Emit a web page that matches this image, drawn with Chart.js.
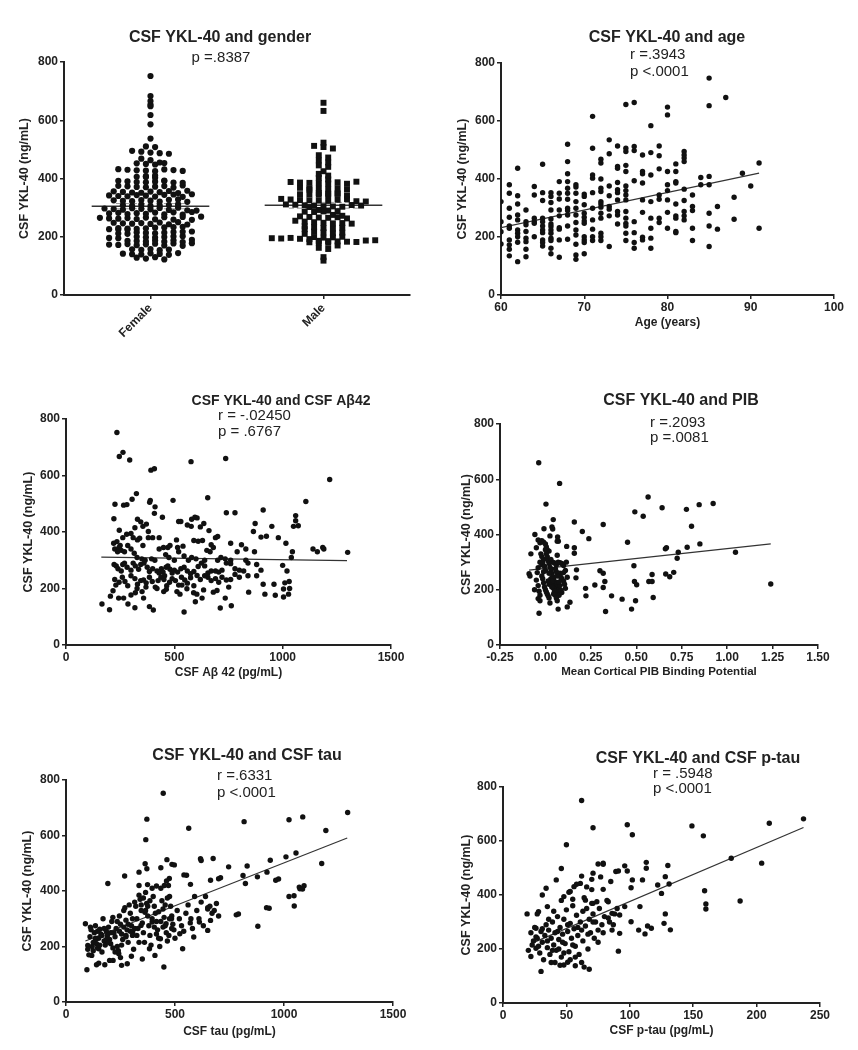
<!DOCTYPE html>
<html>
<head>
<meta charset="utf-8">
<script src="https://cdn.jsdelivr.net/npm/chart.js@4.4.0/dist/chart.umd.min.js"></script>
<style>
    body { margin: 0; background: #fff; width: 858px; height: 1050px; position: relative; overflow: hidden; }
    canvas { position: absolute; }
</style>
</head>
<body>
<canvas id="genderChart"></canvas>
<canvas id="ageChart"></canvas>
<canvas id="abetaChart"></canvas>
<canvas id="pibChart"></canvas>
<canvas id="tauChart"></canvas>
<canvas id="ptauChart"></canvas>
<script>
// ---- data ----
const genderLabels = ['Female', 'Male'];
const femaleValues = [752, 683, 666, 654, 648, 618, 586, 537, 510, 508, 495, 492, 489, 487, 485,
    468, 463, 455, 452, 450, 448, 453, 432, 430, 428, 427, 425, 431, 429, 426, 408, 406, 405, 403, 410,
    392, 390, 388, 387, 389, 391, 386, 393, 385, 375, 373, 371, 370, 372, 374, 369, 376,
    356, 354, 352, 351, 355, 353, 357, 350, 358, 342, 340, 339, 343, 341, 338, 344, 345, 337, 346,
    325, 323, 322, 326, 324, 321, 327, 328, 320, 308, 306, 310, 305, 307, 309, 311,
    297, 295, 293, 298, 296, 294, 299, 292, 300, 291, 290, 280, 282, 278, 281, 279, 283, 277, 284, 276, 285,
    265, 263, 262, 264, 261, 266, 260, 267, 259, 268, 258, 269, 248, 246, 245, 247, 244, 249, 243, 250, 242,
    230, 228, 227, 229, 231, 226, 232, 225, 233, 224, 234, 215, 213, 212, 214, 216, 211, 217, 210, 218,
    200, 198, 197, 199, 201, 196, 202, 195, 186, 185, 184, 187, 183, 188, 182, 189,
    173, 172, 175, 171, 174, 176, 170, 177, 169, 178, 157, 155, 158, 154, 156,
    142, 140, 139, 143, 141, 138, 144, 128, 125, 130, 122];
const maleValues = [660, 632, 523, 512, 508, 503, 480, 472, 462, 455, 445, 440, 425, 416, 410, 402, 397,
    388, 386, 385, 384, 383, 387, 382, 389, 368, 366, 365, 364, 362, 367, 363,
    350, 348, 346, 345, 344, 343, 347, 349, 342, 330, 328, 326, 325, 324, 323, 327, 329, 322, 321,
    311, 310, 308, 306, 305, 304, 303, 309, 307, 302, 292, 290, 288, 286, 285, 287,
    275, 272, 270, 268, 266, 265, 267, 263, 255, 252, 250, 248, 246, 247, 245,
    236, 233, 230, 228, 226, 231, 218, 215, 212, 210, 214,
    199, 197, 195, 194, 196, 198, 193, 200, 192, 186, 185, 184, 183, 182, 181, 187, 180, 188, 179,
    170, 162, 158, 130, 118];
const genderMeans = [305, 308];
const genderSems = [9, 10];

const ageYears = [60, 61, 62, 63, 64, 65, 66, 67, 68, 69, 70, 71, 72, 73, 74, 75,
    76, 77, 78, 79, 80, 81, 82, 83, 84, 85, 86, 87, 88, 89, 90, 91];
const ageYklByYear = [
    [322, 253, 218, 176],
    [380, 351, 299, 268, 238, 230, 190, 173, 158, 135],
    [437, 342, 314, 276, 259, 224, 213, 201, 182, 115],
    [293, 253, 242, 219, 196, 184, 158, 132],
    [374, 345, 265, 253, 247, 201],
    [451, 353, 326, 265, 253, 238, 224, 215, 190, 181, 169],
    [353, 340, 319, 293, 262, 245, 236, 224, 213, 196, 188, 161, 142],
    [391, 351, 331, 293, 273, 232, 227, 190, 130],
    [520, 460, 418, 391, 368, 351, 330, 299, 291, 276, 238, 192],
    [380, 372, 351, 322, 299, 276, 250, 224, 207, 175, 138, 123],
    [348, 340, 311, 282, 268, 255, 247, 201, 190, 181, 142],
    [616, 506, 414, 403, 353, 299, 259, 227, 201, 188],
    [468, 455, 400, 368, 357, 322, 314, 303, 282, 265, 213, 201, 188],
    [535, 487, 376, 342, 305, 296, 273, 167],
    [514, 443, 437, 388, 363, 353, 328, 288, 276, 245],
    [657, 506, 495, 447, 426, 376, 360, 345, 328, 288, 265, 247, 238, 213, 188],
    [664, 512, 498, 394, 253, 215, 181, 161],
    [483, 426, 418, 386, 328, 285, 199, 190],
    [584, 491, 414, 322, 265, 230, 196, 161],
    [514, 480, 435, 345, 330, 265, 250],
    [648, 621, 426, 380, 360, 328, 285, 230],
    [452, 426, 391, 386, 314, 273, 265, 219, 215],
    [495, 483, 472, 460, 365, 326, 288, 273, 259],
    [345, 305, 291, 230, 188],
    [405, 380],
    [748, 653, 409, 380, 282, 238, 167],
    [305, 227],
    [681],
    [337, 261],
    [420],
    [376],
    [455, 230]
];
const ageFit = [[60, 232], [91, 420]];

const abetaPoints = [
    [235, 752], [246, 667], [263, 682], [294, 655], [392, 619], [408, 624], [577, 649], [737, 660], [1217, 586],
    [226, 498], [266, 495], [281, 497], [305, 516], [325, 536], [389, 512], [386, 505], [411, 489], [494, 512],
    [654, 521], [1107, 508], [910, 478], [780, 468], [445, 452], [221, 447], [408, 466], [580, 445], [595, 452],
    [605, 450], [1060, 458],
    [246, 406], [318, 415], [330, 445], [345, 436], [355, 420], [371, 428], [380, 402], [520, 437], [530, 437],
    [560, 425], [578, 420], [620, 418], [636, 430], [660, 405], [740, 468], [873, 430], [865, 402], [950, 420],
    [980, 380], [1050, 420], [1060, 440], [1072, 422],
    [220, 360], [235, 366], [250, 352], [262, 380], [280, 392], [300, 395], [310, 380], [330, 372], [340, 378],
    [355, 352], [380, 380], [400, 380], [430, 380], [470, 345], [480, 352], [510, 372], [515, 345], [540, 350],
    [590, 370], [610, 367], [630, 370], [670, 355], [690, 380], [700, 384], [760, 360], [810, 355], [830, 340],
    [900, 382], [925, 385], [1015, 360], [1185, 345], [1190, 340], [1140, 340], [1160, 330],
    [225, 340], [238, 330], [245, 345], [255, 335], [270, 330], [285, 352], [300, 340], [315, 325], [328, 310],
    [350, 305], [365, 300], [395, 305], [410, 300], [430, 340], [450, 345], [460, 320], [475, 310], [500, 300],
    [520, 330], [545, 315], [565, 300], [580, 310], [600, 305], [640, 300], [650, 335], [665, 330], [680, 345],
    [700, 300], [715, 310], [735, 305], [760, 300], [790, 330], [830, 300], [870, 330], [900, 265], [1040, 310],
    [1045, 330], [1300, 328],
    [222, 285], [232, 280], [240, 270], [255, 262], [262, 285], [270, 290], [282, 275], [300, 265], [310, 290],
    [320, 280], [335, 268], [345, 285], [360, 290], [375, 275], [385, 260], [400, 270], [420, 262], [430, 255],
    [440, 270], [448, 258], [455, 245], [462, 275], [470, 280], [480, 268], [490, 255], [500, 265], [515, 258],
    [530, 270], [545, 275], [560, 262], [575, 252], [590, 260], [610, 278], [625, 290], [640, 280], [655, 255],
    [670, 262], [690, 262], [705, 258], [720, 265], [740, 290], [760, 288], [780, 270], [800, 265], [820, 262],
    [840, 290], [880, 285], [1000, 282], [1020, 262],
    [225, 232], [230, 212], [245, 222], [260, 240], [272, 225], [285, 210], [300, 245], [318, 235], [330, 215],
    [345, 228], [358, 230], [370, 220], [385, 240], [398, 225], [412, 205], [425, 228], [438, 240], [452, 232],
    [465, 210], [478, 222], [490, 235], [505, 228], [520, 212], [533, 240], [548, 230], [560, 219], [575, 238],
    [590, 210], [605, 246], [620, 232], [640, 245], [655, 240], [670, 228], [690, 235], [705, 222], [720, 240],
    [740, 230], [760, 232], [780, 250], [800, 240], [840, 245], [880, 245], [910, 215], [960, 215], [1010, 220],
    [1030, 225],
    [205, 173], [217, 192], [243, 166], [266, 166], [286, 145], [300, 177], [320, 185], [328, 200], [351, 189],
    [358, 166], [369, 205], [420, 200], [451, 189], [463, 197], [512, 189], [526, 180], [535, 212], [558, 199],
    [589, 185], [597, 153], [604, 180], [628, 166], [635, 195], [680, 187], [697, 193], [735, 166], [751, 205],
    [843, 187], [918, 180], [966, 176], [1004, 170], [1027, 180], [1004, 198], [1032, 200],
    [166, 145], [201, 125], [318, 132], [385, 136], [403, 124], [545, 117], [712, 131], [763, 139]
];
const abetaFit = [[163, 311], [1297, 299]];

const pibPoints = [
    [-0.037, 660], [0.078, 585], [0.003, 510], [0.043, 454], [-0.008, 421], [0.036, 427], [-0.058, 400],
    [0.067, 391], [0.071, 376], [0.117, 357], [0.159, 445], [0.203, 411], [0.239, 385], [0.318, 436],
    [0.159, 352], [0.159, 332], [0.171, 272], [0.168, 243], [0.221, 205], [0.223, 178], [0.272, 217],
    [0.30, 269], [0.318, 260], [0.327, 230], [0.318, 208], [0.331, 121], [0.364, 178], [0.422, 166],
    [0.452, 372], [0.474, 130], [0.487, 287], [0.492, 482], [0.49, 230], [0.502, 218], [0.496, 160],
    [0.538, 466], [0.565, 536], [0.569, 230], [0.587, 230], [0.587, 255], [0.593, 172], [0.642, 497],
    [0.66, 348], [0.666, 352], [0.662, 257], [0.684, 247], [0.706, 263], [0.725, 314], [0.731, 336],
    [0.776, 491], [0.78, 354], [0.804, 430], [0.846, 508], [0.85, 366], [0.923, 512], [1.046, 336], [1.24, 221],
    [-0.08, 330], [-0.09, 258], [-0.085, 250], [-0.06, 200], [-0.05, 352], [-0.04, 380], [-0.03, 370],
    [-0.02, 378], [-0.01, 372], [0.0, 366], [0.01, 345], [0.02, 340], [-0.04, 280], [-0.045, 262],
    [-0.05, 235], [-0.04, 215], [-0.035, 195], [-0.03, 180], [-0.04, 168], [-0.03, 160], [-0.035, 115],
    [-0.02, 290], [-0.015, 300], [-0.01, 310], [-0.005, 285], [0.0, 270], [0.005, 330], [0.01, 320],
    [0.015, 305], [0.02, 295], [0.025, 282], [0.03, 275], [0.035, 260], [0.04, 248], [0.045, 240],
    [0.05, 230], [0.055, 220], [0.06, 210], [0.065, 200], [0.07, 190], [0.075, 180], [-0.02, 250],
    [-0.015, 240], [-0.01, 225], [-0.005, 210], [0.0, 200], [0.005, 192], [0.01, 185], [0.015, 178],
    [0.02, 170], [0.025, 152], [0.03, 240], [0.035, 230], [0.04, 215], [0.045, 205], [0.05, 195],
    [0.055, 180], [0.06, 170], [0.065, 160], [0.07, 130], [-0.025, 330], [-0.02, 320], [0.0, 345],
    [0.005, 355], [0.03, 310], [0.04, 300], [0.05, 297], [0.06, 290], [0.07, 300], [0.08, 298],
    [0.09, 295], [0.1, 288], [0.11, 270], [0.12, 245], [0.08, 260], [0.085, 245], [0.09, 240], [0.1, 232],
    [0.105, 220], [0.11, 205], [0.09, 190], [0.085, 198], [0.08, 215], [0.075, 228], [0.1, 262],
    [0.065, 250], [0.06, 265], [0.055, 275], [0.02, 220], [0.015, 232], [-0.01, 265], [-0.03, 300],
    [0.04, 420], [0.025, 395], [0.065, 376], [0.035, 210], [0.045, 185], [0.02, 260], [0.12, 138],
    [0.135, 155], [0.115, 300], [0.065, 325]
];
const pibFit = [[-0.09, 271], [1.24, 366]];

const tauPoints = [
    [446, 752], [371, 659], [366, 585], [563, 626], [817, 650], [1023, 657], [1086, 667], [1292, 683],
    [1192, 618], [1173, 499], [1055, 537], [1009, 523], [937, 511], [922, 468], [962, 439], [878, 451],
    [831, 490], [812, 456], [823, 427], [746, 487], [675, 517], [617, 516], [620, 510], [463, 513],
    [486, 496], [497, 494], [435, 484], [363, 498], [371, 480], [335, 468], [269, 454], [192, 427],
    [553, 457], [541, 458], [709, 448], [700, 444], [663, 439], [571, 424], [474, 445], [451, 420],
    [461, 436], [415, 418], [374, 423], [335, 420], [1023, 380], [1070, 414], [1073, 408], [1047, 346],
    [920, 340], [781, 314],
    [89, 282], [100, 204], [96, 116], [118, 168], [112, 270], [135, 224], [150, 192], [140, 134],
    [178, 134], [216, 150], [242, 174], [255, 132], [281, 138], [275, 240], [306, 252], [344, 276],
    [362, 323], [383, 192], [408, 168], [433, 228], [395, 288], [459, 282], [472, 240], [449, 126],
    [484, 300], [535, 192], [522, 246], [586, 234], [573, 300], [612, 288], [650, 335], [663, 294],
    [650, 258], [791, 317], [880, 273], [932, 338], [975, 443], [1046, 383], [1092, 419], [1085, 407],
    [110, 235], [115, 260], [120, 200], [125, 185], [130, 250], [135, 275], [140, 210], [145, 195],
    [150, 230], [155, 262], [160, 245], [165, 180], [170, 300], [175, 220], [180, 205], [185, 255],
    [190, 240], [195, 270], [200, 225], [205, 210], [210, 290], [215, 305], [220, 250], [225, 235],
    [230, 265], [235, 200], [240, 185], [245, 310], [250, 280], [255, 245], [260, 225], [265, 330],
    [270, 340], [275, 295], [280, 260], [285, 215], [290, 350], [295, 320], [300, 275], [305, 240],
    [310, 190], [315, 360], [320, 345], [325, 300], [330, 265], [335, 385], [340, 370], [345, 330],
    [350, 285], [355, 250], [360, 215], [365, 395], [370, 355], [375, 310], [380, 275], [385, 240],
    [390, 205], [395, 410], [400, 380], [405, 345], [410, 320], [415, 290], [420, 260], [425, 230],
    [430, 200], [435, 410], [440, 365], [445, 335], [450, 305], [455, 275], [460, 250], [465, 220],
    [470, 420], [475, 380], [480, 345], [485, 310], [490, 280], [495, 260], [500, 230], [510, 330],
    [520, 300], [530, 275], [540, 255], [550, 320], [560, 350], [570, 285], [580, 265], [590, 380],
    [600, 330], [610, 300], [620, 360], [630, 275], [640, 380], [650, 340], [660, 345], [670, 320],
    [680, 330], [690, 355], [700, 310],
    [125, 215], [135, 230], [145, 255], [155, 205], [165, 240], [175, 265], [185, 225], [195, 215],
    [205, 250], [215, 195], [225, 180], [235, 290], [245, 255], [255, 205], [265, 270], [275, 235],
    [285, 280], [295, 255], [305, 300], [315, 265], [325, 240], [335, 215], [345, 350], [355, 375],
    [365, 330], [375, 345], [385, 365], [395, 300], [405, 270], [415, 245], [425, 325], [435, 290],
    [445, 270], [455, 350], [465, 375], [475, 300], [485, 265],
    [100, 190], [105, 170], [150, 140], [200, 150], [250, 160], [300, 165], [350, 155]
];
const tauFit = [[89, 220], [1290, 591]];

const ptauPoints = [
    [62, 750], [71, 649], [98, 660], [102, 623], [50, 586], [149, 656], [158, 619], [210, 666], [237, 682],
    [180, 536], [204, 518], [187, 378], [159, 416], [160, 367], [160, 348], [130, 509], [128, 468],
    [131, 441], [122, 437], [125, 406], [128, 330], [113, 521], [113, 499], [110, 456], [102, 456],
    [101, 427], [108, 357], [96, 508], [98, 489], [89, 487], [91, 489], [85, 450], [79, 421], [75, 515],
    [79, 518], [70, 458], [71, 481], [46, 498], [42, 456], [34, 425], [31, 400], [19, 330], [28, 338],
    [35, 357], [48, 394], [53, 413], [56, 431], [61, 443], [65, 381], [71, 369], [86, 332],
    [22, 172], [26, 203], [30, 117], [27, 330], [26, 277], [48, 141], [51, 151], [57, 138], [64, 133],
    [68, 125], [55, 384], [70, 369], [77, 467], [79, 514], [83, 375], [92, 326], [96, 357], [92, 258],
    [101, 301], [91, 192], [107, 270], [112, 256], [114, 285], [117, 277], [127, 295], [132, 271],
    [20, 195], [22, 260], [24, 230], [25, 280], [26, 245], [28, 210], [29, 185], [30, 265], [31, 225],
    [32, 160], [33, 250], [34, 290], [35, 205], [36, 270], [37, 180], [38, 240], [39, 300], [40, 215],
    [41, 260], [42, 195], [43, 320], [44, 235], [45, 280], [46, 170], [47, 255], [48, 310], [49, 220],
    [50, 345], [51, 265], [52, 190], [53, 295], [54, 240], [55, 360], [56, 275], [57, 210], [58, 325],
    [59, 250], [60, 180], [61, 300], [62, 270], [63, 230], [64, 390], [65, 285], [66, 350], [67, 200],
    [68, 310], [69, 260], [70, 420], [71, 330], [72, 240], [73, 300], [74, 375], [75, 270], [76, 350],
    [78, 290], [80, 320], [82, 380], [84, 300], [86, 270], [88, 330], [90, 350],
    [23, 215], [27, 240], [31, 275], [35, 230], [39, 195], [43, 265], [47, 225], [51, 290], [55, 215],
    [59, 280], [63, 340], [67, 255], [71, 300], [75, 225], [79, 260], [83, 315], [87, 290], [41, 150],
    [45, 140], [53, 160], [57, 170], [62, 150], [38, 150], [44, 200], [48, 185], [36, 310], [40, 340],
    [46, 380], [52, 410], [58, 440], [62, 470], [66, 430]
];
const ptauFit = [[22, 220], [237, 650]];

// ---- drawing ----
const FONT = "'Liberation Sans', Arial, Helvetica, sans-serif";
const INK = '#222';
Chart.defaults.font.family = FONT;
Chart.defaults.color = INK;

// free text (titles, r / p values) placed like in the figure
const panelText = {
    id: 'panelText',
    afterDraw(chart, args, opts) {
        const ctx = chart.ctx;
        ctx.save();
        ctx.fillStyle = INK;
        ctx.textBaseline = 'middle';
        (opts.items || []).forEach(t => {
            ctx.font = t.font;
            ctx.textAlign = t.align || 'left';
            ctx.fillText(t.text, t.x, t.y);
        });
        ctx.restore();
    }
};

function toXY(pairs) {
    return pairs.map(p => ({ x: p[0], y: p[1] }));
}

// GraphPad style column scatter: rows of close values spread sideways
function dotColumn(values, center, rowHeight, gapPx, pxPerUnit) {
    const rows = {};
    values.forEach(v => {
        const k = Math.floor(v / rowHeight);
        (rows[k] = rows[k] || []).push(v);
    });
    const pts = [];
    Object.values(rows).forEach(row => {
        row.forEach((v, i) => {
            pts.push({ x: center + (i - (row.length - 1) / 2) * gapPx / pxPerUnit, y: v });
        });
    });
    return pts;
}

function yAxis(width) {
    return {
        min: 0, max: 800,
        ticks: { stepSize: 200, padding: 2, color: INK, font: { size: 12, weight: 'bold' } },
        grid: { drawOnChartArea: false, drawTicks: true, tickLength: 4, color: INK, lineWidth: 1.5 },
        border: { display: true, color: INK, width: 2 },
        title: { display: true, text: 'CSF YKL-40 (ng/mL)', color: INK, padding: 0, font: { size: 12.5, weight: 'bold' } },
        afterFit: s => { s.width = width; }
    };
}

function xAxis(cfg, height) {
    return Object.assign({
        type: 'linear',
        ticks: { padding: 1, color: INK, font: { size: 12, weight: 'bold' }, stepSize: cfg.step, callback: cfg.fmt },
        grid: { drawOnChartArea: false, drawTicks: true, tickLength: 4, color: INK, lineWidth: 1.5 },
        border: { display: true, color: INK, width: 2 },
        title: { display: !!cfg.title, text: cfg.title, color: INK, padding: 0, font: { size: cfg.titleSize || 12, weight: 'bold' } },
        afterFit: s => { s.height = height; }
    }, { min: cfg.min, max: cfg.max });
}

function scatterSet(pairs, radius) {
    return { data: toXY(pairs), pointRadius: radius || 2.7, pointHoverRadius: radius || 2.7,
        backgroundColor: '#111', borderWidth: 0, showLine: false };
}

function fitSet(pairs) {
    return { data: toXY(pairs), showLine: true, pointRadius: 0, borderColor: '#333', borderWidth: 1.2 };
}

// box: canvas rect on page, plot: plot area on page
function makePanel(id, box, plot, yW, xH, datasets, xScale, texts) {
    const canvas = document.getElementById(id);
    canvas.width = box.w;
    canvas.height = box.h;
    canvas.style.left = box.x + 'px';
    canvas.style.top = box.y + 'px';
    const items = texts.map(t => Object.assign({}, t, { x: t.x - box.x, y: t.y - box.y }));
    return new Chart(canvas.getContext('2d'), {
        type: 'scatter',
        data: { datasets: datasets },
        options: {
            responsive: false,
            animation: false,
            events: [],
            layout: {
                padding: {
                    left: plot.left - box.x - yW,
                    top: plot.top - box.y,
                    right: box.x + box.w - plot.right,
                    bottom: box.y + box.h - plot.bottom - xH
                }
            },
            scales: { x: xScale, y: yAxis(yW) },
            plugins: { legend: { display: false }, tooltip: { enabled: false }, panelText: { items: items } }
        },
        plugins: [panelText]
    });
}

const TITLE = 'bold 16px ' + FONT;
const STAT = '15px ' + FONT;

// Panel 1: gender
(function () {
    const plot = { left: 64, top: 62, right: 410, bottom: 295 };
    const pxX = (plot.right - plot.left) / 2;
    const pxY = (plot.bottom - plot.top) / 800;
    const rowH = 4.4 / pxY;
    const female = dotColumn(femaleValues, 0.5, rowH, 9.2, pxX);
    const male = dotColumn(maleValues, 1.5, rowH, 9.4, pxX);
    const meanHalf = 0.34;
    const sets = [
        { data: female, pointRadius: 3.1, backgroundColor: '#111', borderWidth: 0, showLine: false },
        { data: male, pointStyle: 'rect', pointRadius: 4.2, backgroundColor: '#111', borderWidth: 0, showLine: false }
    ];
    [0.5, 1.5].forEach((c, i) => {
        sets.push({ data: [{ x: c - meanHalf, y: genderMeans[i] }, { x: c + meanHalf, y: genderMeans[i] }],
            showLine: true, pointRadius: 0, borderColor: '#333', borderWidth: 1.5 });
        [-1, 1].forEach(sgn => {
            const v = genderMeans[i] + sgn * genderSems[i];
            sets.push({ data: [{ x: c - 0.2, y: v }, { x: c + 0.2, y: v }],
                showLine: true, pointRadius: 0, borderColor: '#999', borderWidth: 1, borderDash: [5, 3] });
        });
    });
    const xs = xAxis({ min: 0, max: 2 }, 55);
    xs.afterBuildTicks = s => { s.ticks = [{ value: 0.5 }, { value: 1.5 }]; };
    xs.ticks = { padding: 2, color: INK, font: { size: 12, weight: 'bold' }, autoSkip: false,
        minRotation: 45, maxRotation: 45, callback: (v, i) => genderLabels[i] };
    makePanel('genderChart', { x: 0, y: 0, w: 430, h: 355 }, plot, 46.5, 55, sets, xs, [
        { text: 'CSF YKL-40 and gender', x: 220, y: 38, align: 'center', font: TITLE },
        { text: 'p =.8387', x: 221, y: 58, align: 'center', font: STAT }
    ]);
})();

// Panel 2: age
(function () {
    const pairs = [];
    ageYears.forEach((age, i) => ageYklByYear[i].forEach(v => pairs.push([age, v])));
    makePanel('ageChart', { x: 430, y: 0, w: 428, h: 355 }, { left: 501, top: 63, right: 834, bottom: 295 }, 45.5, 35,
        [scatterSet(pairs), fitSet(ageFit)],
        xAxis({ min: 60, max: 100, step: 10, title: 'Age (years)' }, 35), [
            { text: 'CSF YKL-40 and age', x: 667, y: 38, align: 'center', font: TITLE },
            { text: 'r =.3943', x: 630, y: 55, font: STAT },
            { text: 'p <.0001', x: 630, y: 72, font: STAT }
        ]);
})();

// Panel 3: CSF Abeta42
makePanel('abetaChart', { x: 0, y: 355, w: 430, h: 335 }, { left: 66, top: 419, right: 391, bottom: 645 }, 44.5, 35,
    [scatterSet(abetaPoints), fitSet(abetaFit)],
    xAxis({ min: 0, max: 1500, step: 500, title: 'CSF A\u03B2 42 (pg/mL)' }, 35), [
        { text: 'CSF YKL-40 and CSF A\u03B242', x: 281, y: 401, align: 'center', font: 'bold 14px ' + FONT },
        { text: 'r = -.02450', x: 218, y: 416, font: STAT },
        { text: 'p = .6767', x: 218, y: 432, font: STAT }
    ]);

// Panel 4: PIB
makePanel('pibChart', { x: 430, y: 355, w: 428, h: 335 }, { left: 500, top: 424, right: 818, bottom: 645 }, 40.5, 34,
    [scatterSet(pibPoints), fitSet(pibFit)],
    xAxis({ min: -0.25, max: 1.5, step: 0.25, fmt: v => v.toFixed(2), title: 'Mean Cortical PIB Binding Potential', titleSize: 11.5 }, 34), [
        { text: 'CSF YKL-40 and PIB', x: 681, y: 401, align: 'center', font: TITLE },
        { text: 'r =.2093', x: 650, y: 423, font: STAT },
        { text: 'p =.0081', x: 650, y: 438, font: STAT }
    ]);

// Panel 5: CSF tau
makePanel('tauChart', { x: 0, y: 690, w: 430, h: 360 }, { left: 66, top: 780, right: 393, bottom: 1002 }, 45.5, 37,
    [scatterSet(tauPoints), fitSet(tauFit)],
    xAxis({ min: 0, max: 1500, step: 500, title: 'CSF tau (pg/mL)' }, 37), [
        { text: 'CSF YKL-40 and CSF tau', x: 247, y: 756, align: 'center', font: TITLE },
        { text: 'r =.6331', x: 217, y: 776, font: STAT },
        { text: 'p <.0001', x: 217, y: 793, font: STAT }
    ]);

// Panel 6: CSF p-tau
makePanel('ptauChart', { x: 430, y: 690, w: 428, h: 360 }, { left: 503, top: 787, right: 820, bottom: 1003 }, 43.5, 35,
    [scatterSet(ptauPoints), fitSet(ptauFit)],
    xAxis({ min: 0, max: 250, step: 50, title: 'CSF p-tau (pg/mL)' }, 35), [
        { text: 'CSF YKL-40 and CSF p-tau', x: 698, y: 759, align: 'center', font: TITLE },
        { text: 'r = .5948', x: 653, y: 774, font: STAT },
        { text: 'p <.0001', x: 653, y: 789, font: STAT }
    ]);
</script>
</body>
</html>
